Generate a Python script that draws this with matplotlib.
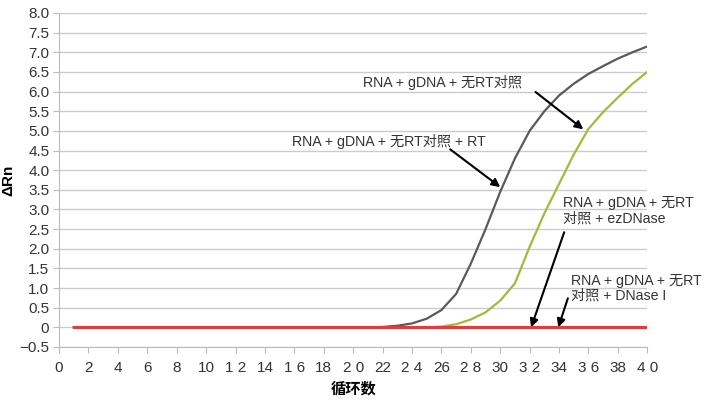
import matplotlib
matplotlib.use('Agg')
import matplotlib.pyplot as plt
import numpy as np

plt.rcParams['font.family'] = ['Liberation Sans', 'Noto Sans CJK SC', 'DejaVu Sans']

# 数据：循环数与ΔRn
cycles = list(range(1, 41))
rt_plus = [0] * 21 + [0.01, 0.04, 0.10, 0.22, 0.44, 0.85, 1.62, 2.50, 3.45,
                      4.30, 5.00, 5.50, 5.90, 6.20, 6.45, 6.65, 6.84, 7.00, 7.15]
no_rt = [0] * 25 + [0.02, 0.08, 0.20, 0.38, 0.68, 1.12, 2.05, 2.90, 3.65,
                    4.40, 5.05, 5.48, 5.85, 6.20, 6.50]
dnase = [0] * 40

x_ticks = list(range(0, 41, 2))
x_labels = ['0', '2', '4', '6', '8', '10', '1 2', '14', '1 6', '18', '2 0',
            '22', '2 4', '26', '2 8', '30', '3 2', '34', '3 6', '38', '4 0']
y_ticks = [-0.5 + 0.5 * i for i in range(18)]
y_labels = ['\u22120.5', '0'] + ['%.1f' % v for v in y_ticks[2:]]

fig = plt.figure(figsize=(7.2, 4.0), dpi=100)
ax = fig.add_axes([0.082, 0.1325, 0.817, 0.835])

ax.plot(cycles, rt_plus, color='#5a5a5c', lw=1.6, zorder=3)
ax.plot(cycles, no_rt, color='#a6b83c', lw=1.6, zorder=3)
ax.plot(cycles, dnase, color='#e33a3f', lw=2.2, zorder=4)

ax.set_xlim(0, 40)
ax.set_ylim(-0.5, 8.0)
ax.set_xticks(x_ticks)
ax.set_xticklabels(x_labels)
ax.set_yticks(y_ticks)
ax.set_yticklabels(y_labels)
ax.tick_params(axis='both', labelsize=11, colors='#333333', length=4, width=0.8)
ax.tick_params(axis='x', color='#bbbbbb', pad=6)
ax.tick_params(axis='y', color='#bbbbbb', pad=3)

ax.grid(axis='y', color='#cccccc', lw=1)
ax.set_axisbelow(True)
for s in ['top', 'right']:
    ax.spines[s].set_visible(False)
for s in ['left', 'bottom']:
    ax.spines[s].set_color('#bbbbbb')

ax.set_xlabel('循环数', fontsize=11, fontweight='bold', labelpad=5)
ax.set_ylabel('ΔRn', fontsize=11, fontweight='bold', labelpad=3)

arrow = dict(arrowstyle='-|>', color='black', lw=1.5, mutation_scale=12,
             shrinkA=0, shrinkB=0)
txt = dict(fontsize=10.2, color='#333333')

ax.text(26.05, 6.24, 'RNA + gDNA + 无RT对照', ha='center', va='center', **txt)
ax.annotate('', xy=(35.65, 5.04), xytext=(32.4, 5.99), arrowprops=arrow)

ax.text(22.45, 4.74, 'RNA + gDNA + 无RT对照 + RT', ha='center', va='center', **txt)
ax.annotate('', xy=(30.0, 3.57), xytext=(26.6, 4.53), arrowprops=arrow)

ax.text(34.3, 2.96, 'RNA + gDNA + 无RT\n对照 + ezDNase', ha='left', va='center',
        linespacing=1.1, **txt)
ax.annotate('', xy=(32.1, 0.0), xytext=(34.35, 2.42), arrowprops=arrow)

ax.text(34.8, 1.0, 'RNA + gDNA + 无RT\n对照 + DNase I', ha='left', va='center',
        linespacing=1.1, **txt)
ax.annotate('', xy=(33.95, 0.0), xytext=(34.6, 0.74), arrowprops=arrow)

fig.savefig('out.png', dpi=100)
plt.close(fig)
